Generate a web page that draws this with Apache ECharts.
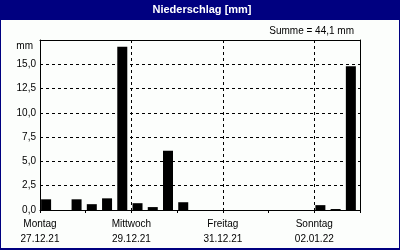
<!DOCTYPE html>
<html><head><meta charset="utf-8">
<script src="https://cdn.jsdelivr.net/npm/echarts@6/dist/echarts.min.js"></script>
<style>html,body{margin:0;padding:0;background:#fcfefc}#c{width:400px;height:250px}</style>
</head><body><div id="c"></div>
<script>
const titleText = 'Niederschlag [mm]';
const sumText = 'Summe = 44,1 mm';
const yUnit = 'mm';
// 8-hour bins, start hour from Monday 27.12.21 00:00
const binStartHours = [0,8,16,24,32,40,48,56,64,72,80,88,96,104,112,120,128,136,144,152,160];
const precip = [1.1,0,1.1, 0.6,1.2,16.8, 0.7,0.3,6.1, 0.8,0,0, 0,0,0, 0,0,0, 0.5,0.1,14.8];
const dayNames = ['Montag','Dienstag','Mittwoch','Donnerstag','Freitag','Samstag','Sonntag'];
const dayDates = ['27.12.21','28.12.21','29.12.21','30.12.21','31.12.21','01.01.22','02.01.22'];
const yMax = 17.5, yStep = 2.5;
const hoursTotal = 168, hoursLabelStep = 48, hoursTickStep = 24;

const FONT = 'Liberation Sans, Arial, sans-serif';
const NAVY = '#000080';
const barCenterShift = 3.2; // hours from bin start to drawn bar centre

const chart = echarts.init(document.getElementById('c'), null, {renderer: 'canvas'});
chart.setOption({
  animation: false,
  backgroundColor: '#fcfefc',
  grid: {left: 40, right: 40, top: 40, bottom: 40, show: false},
  xAxis: [
    {
      type: 'value', min: 0, max: hoursTotal, interval: hoursLabelStep,
      axisLine: {show: true, onZero: false, lineStyle: {color: '#000', width: 1}},
      axisTick: {show: false},
      axisLabel: {
        fontFamily: FONT, fontSize: 10, color: '#000', margin: 7, lineHeight: 15,
        showMinLabel: true, showMaxLabel: true,
        formatter: v => {
          if (v % hoursLabelStep !== 0 || v >= hoursTotal) return '';
          const i = v / hoursTickStep;
          return dayNames[i] + '\n' + dayDates[i];
        }
      },
      splitLine: {show: true, lineStyle: {color: '#000', type: [3, 3], width: 1}}
    },
    {
      type: 'value', min: 0, max: hoursTotal, interval: hoursTickStep, position: 'bottom',
      axisLine: {show: false},
      axisTick: {show: true, length: 3, lineStyle: {color: '#000'}},
      axisLabel: {show: false},
      splitLine: {show: false}
    },
    {
      type: 'value', min: 0, max: hoursTotal, position: 'top',
      axisLine: {show: true, onZero: false, lineStyle: {color: '#000'}},
      axisTick: {show: false}, axisLabel: {show: false}, splitLine: {show: false}
    }
  ],
  yAxis: [
    {
      type: 'value', min: 0, max: yMax, interval: yStep,
      axisLine: {show: true, onZero: false, lineStyle: {color: '#000'}},
      axisTick: {show: false},
      axisLabel: {
        fontFamily: FONT, fontSize: 10, color: '#000', margin: 4,
        formatter: v => v >= yMax ? '' : v.toFixed(1).replace('.', ',')
      },
      splitLine: {show: true, lineStyle: {color: '#000', type: [3, 3], width: 1}}
    },
    {
      type: 'value', min: 0, max: yMax, position: 'right',
      axisLine: {show: true, onZero: false, lineStyle: {color: '#000'}},
      axisTick: {show: false}, axisLabel: {show: false}, splitLine: {show: false}
    }
  ],
  series: [{
    type: 'bar', xAxisIndex: 0, yAxisIndex: 0, silent: true,
    barWidth: 10,
    itemStyle: {color: '#000'},
    data: binStartHours.map((h, i) => [h + barCenterShift, precip[i]])
  }],
  graphic: [
    {type: 'rect', left: 0, top: 0, shape: {width: 400, height: 20}, style: {fill: NAVY}, silent: true},
    {type: 'rect', left: 0, top: 0, shape: {width: 1, height: 250}, style: {fill: NAVY}, silent: true},
    {type: 'rect', left: 399, top: 0, shape: {width: 1, height: 250}, style: {fill: NAVY}, silent: true},
    {type: 'rect', left: 0, top: 248, shape: {width: 400, height: 2}, style: {fill: NAVY}, silent: true},
    {type: 'text', x: 202, y: 10, style: {text: titleText, fill: '#fff', font: 'bold 11px ' + FONT, align: 'center', verticalAlign: 'middle'}, silent: true},
    {type: 'text', x: 354, y: 31, style: {text: sumText, fill: '#000', font: '10px ' + FONT, align: 'right', verticalAlign: 'middle'}, silent: true},
    {type: 'text', x: 33, y: 46, style: {text: yUnit, fill: '#000', font: '10px ' + FONT, align: 'right', verticalAlign: 'middle'}, silent: true}
  ]
});
</script>
</body></html>
